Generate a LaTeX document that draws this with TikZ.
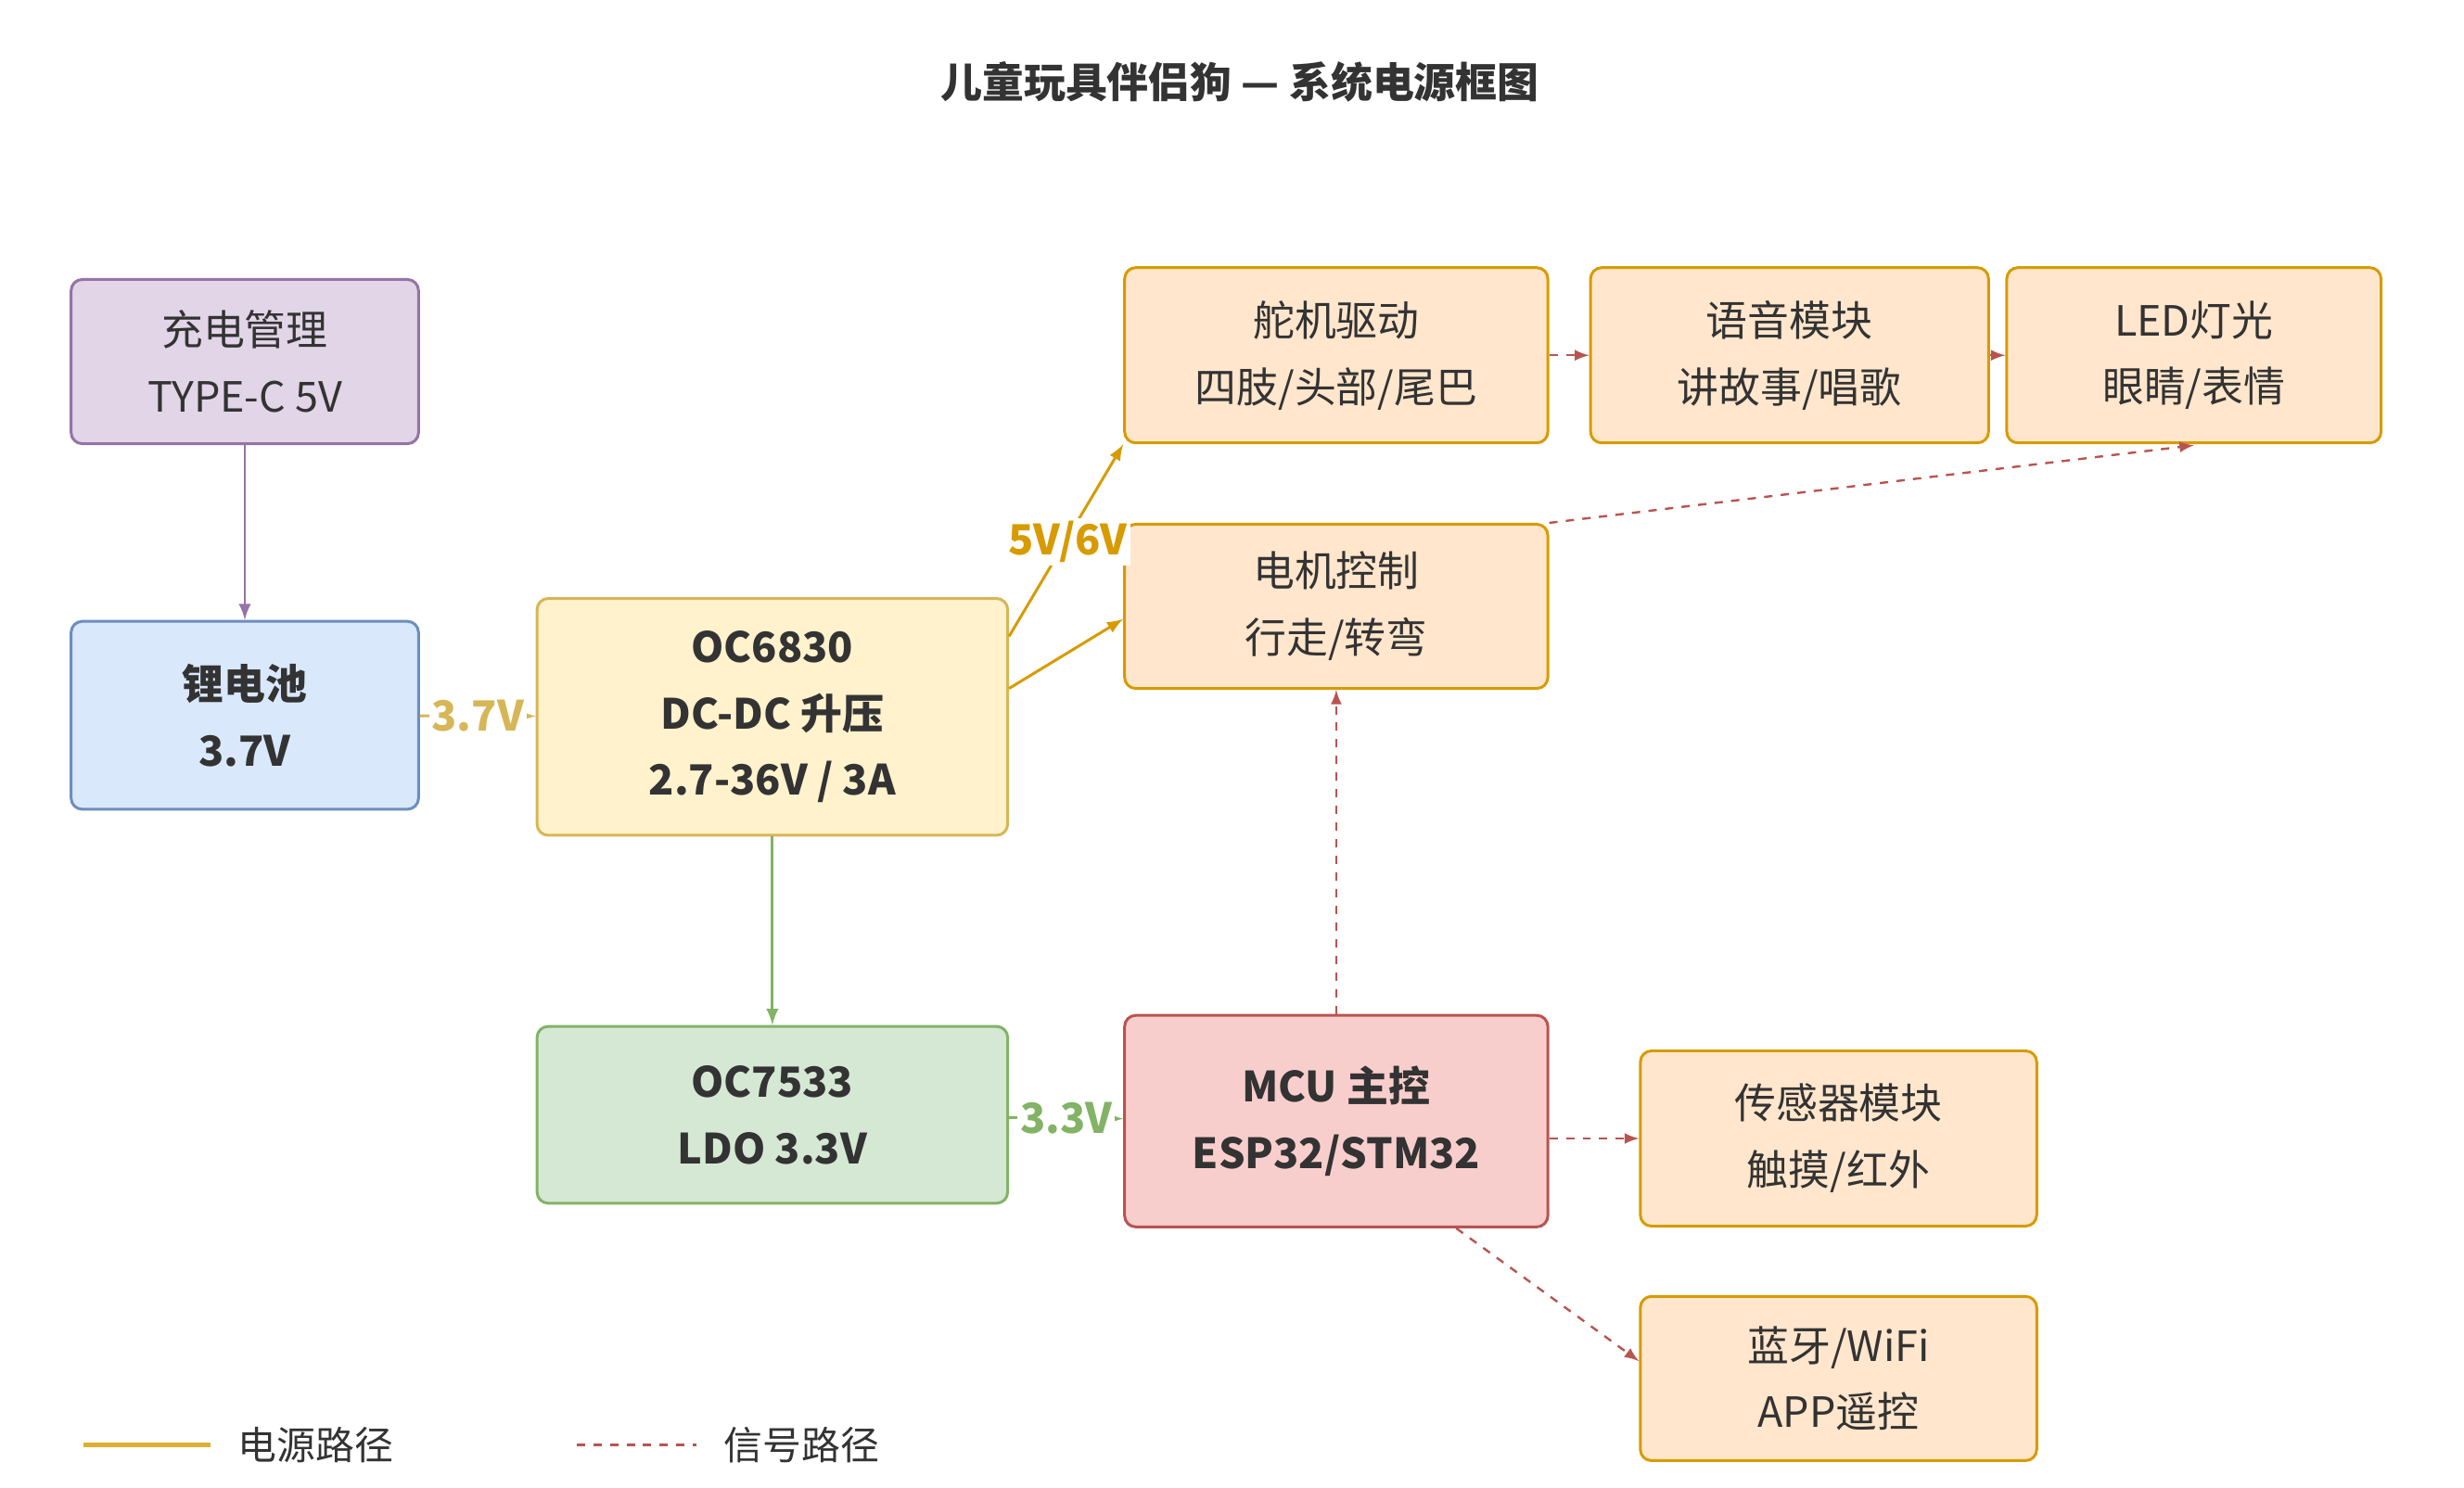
\documentclass[tikz,border=0pt]{standalone}
\usepackage{fontspec}
\setmainfont{Noto Sans CJK SC}
\usetikzlibrary{arrows.meta}
\tikzset{>=latex}
\definecolor{purplefill}{HTML}{E1D5E7}\definecolor{purpleline}{HTML}{9673A6}
\definecolor{bluefill}{HTML}{DAE8FC}\definecolor{blueline}{HTML}{6C8EBF}
\definecolor{yellowfill}{HTML}{FFF2CC}\definecolor{yellowline}{HTML}{D6B656}
\definecolor{greenfill}{HTML}{D5E8D4}\definecolor{greenline}{HTML}{82B366}
\definecolor{redfill}{HTML}{F8CECC}\definecolor{redline}{HTML}{B85450}
\definecolor{orangefill}{HTML}{FFE6CC}\definecolor{orangeline}{HTML}{D79B00}
\definecolor{textgray}{HTML}{333333}
\tikzstyle{block}=[draw,rounded corners=4pt,line width=1pt,align=center,
  text=textgray,font=\fontsize{15}{24}\selectfont,inner sep=0pt]
\tikzstyle{power}=[->,line width=1pt]
\tikzstyle{signal}=[->,redline,line width=0.8pt,dashed]
\tikzstyle{volt}=[font=\bfseries\fontsize{15}{18}\selectfont,fill=white,inner sep=1pt]

\begin{document}
\begin{tikzpicture}[x=0.02cm,y=-0.02cm]
  \useasboundingbox (0,0) rectangle (1560,942);
  
  % TITLE
  \node[font=\bfseries\fontsize{15}{18}\selectfont,text=textgray] (title) at (785,52) {儿童玩具伴侣狗 — 系统电源框图};
  
  % POWER CHAIN
  \node[block,fill=purplefill,draw=purpleline,minimum width=4.4cm,minimum height=2.08cm] (charge) at (155,229) {充电管理\\TYPE-C 5V};
  \node[block,fill=bluefill,draw=blueline,minimum width=4.4cm,minimum height=2.38cm,font=\bfseries\fontsize{15}{24}\selectfont] (battery) at (155,453) {锂电池\\3.7V};
  \node[block,fill=yellowfill,draw=yellowline,minimum width=5.96cm,minimum height=3cm,font=\bfseries\fontsize{15}{24}\selectfont] (boost) at (489,454) {OC6830\\DC-DC 升压\\2.7-36V / 3A};
  \node[block,fill=greenfill,draw=greenline,minimum width=5.96cm,minimum height=2.24cm,font=\bfseries\fontsize{15}{24}\selectfont] (ldo) at (489,706) {OC7533\\LDO 3.3V};
  
  % LOADS
  \node[block,fill=orangefill,draw=orangeline,minimum width=5.36cm,minimum height=2.22cm] (servo) at (846,225) {舵机驱动\\四肢/头部/尾巴};
  \node[block,fill=orangefill,draw=orangeline,minimum width=5.04cm,minimum height=2.22cm] (voice) at (1133,225) {语音模块\\讲故事/唱歌};
  \node[block,fill=orangefill,draw=orangeline,minimum width=4.74cm,minimum height=2.22cm] (led) at (1389,225) {LED灯光\\眼睛/表情};
  \node[block,fill=orangefill,draw=orangeline,minimum width=5.36cm,minimum height=2.08cm] (motor) at (846,384) {电机控制\\行走/转弯};
  \node[block,fill=redfill,draw=redline,minimum width=5.36cm,minimum height=2.68cm,font=\bfseries\fontsize{15}{24}\selectfont] (mcu) at (846,710) {MCU 主控\\ESP32/STM32};
  \node[block,fill=orangefill,draw=orangeline,minimum width=5.02cm,minimum height=2.22cm] (sensor) at (1164,721) {传感器模块\\触摸/红外};
  \node[block,fill=orangefill,draw=orangeline,minimum width=5.02cm,minimum height=2.08cm] (bt) at (1164,873) {蓝牙/WiFi\\APP遥控};
  
  % POWER PATHS
  \draw[power,purpleline] (charge) -- (battery);
  \draw[power,yellowline] (battery) -- node[volt,text=yellowline] {3.7V} (boost);
  \draw[power,orangeline] (boost.east |- 0,403) -- (servo.south west);
  \draw[power,orangeline] (boost.east |- 0,436) -- (motor.west |- 0,392);
  \node[volt,text=orangeline] (v56) at (676,343) {5V/6V};
  \draw[power,greenline] (boost) -- (ldo);
  \draw[power,greenline] (ldo) -- node[volt,text=greenline] {3.3V} (mcu);
  
  % SIGNAL PATHS
  \draw[signal] (mcu) -- (motor);
  \draw[signal] (servo) -- (voice);
  \draw[signal] (voice) -- (led);
  \draw[signal] (motor.north east) -- (led.south |- 0,282);
  \draw[signal] (mcu.east |- sensor) -- (sensor);
  \draw[signal] (mcu.south -| 922,0) -- (bt.west |- 0,862);
  
  % LEGEND
  \coordinate (lp1) at (53,915); \coordinate (lp2) at (133,915);
  \coordinate (ls1) at (365,915); \coordinate (ls2) at (441,915);
  \draw[orangeline!80,line width=1.5pt] (lp1) -- (lp2) node[right=6pt,text=textgray,font=\fontsize{14}{16}\selectfont] (lpt) {电源路径};
  \draw[redline,line width=1pt,dashed] (ls1) -- (ls2) node[right=6pt,text=textgray,font=\fontsize{14}{16}\selectfont] (lst) {信号路径};
\end{tikzpicture}
\end{document}
